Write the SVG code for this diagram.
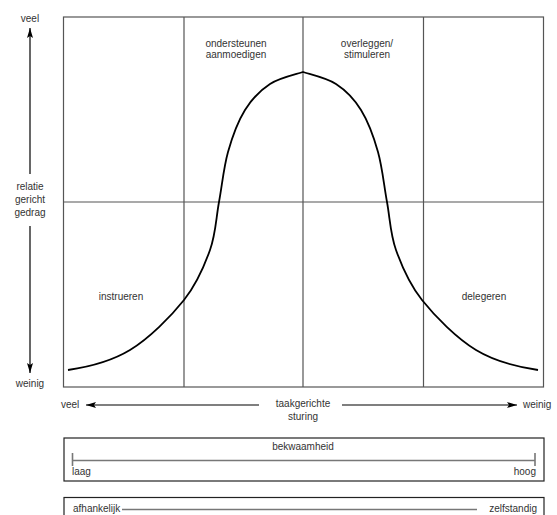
<svg xmlns="http://www.w3.org/2000/svg" width="557" height="515" viewBox="0 0 557 515">
<style>
text{font-family:"Liberation Sans",Arial,sans-serif;font-size:10px;fill:#333}
.mid{text-anchor:middle}
.end{text-anchor:end}
.grid{fill:none;stroke:#555;stroke-width:1.2}
.box{fill:none;stroke:#222;stroke-width:1.2}
.scale{fill:none;stroke:#777;stroke-width:1.6}
.axis{fill:none;stroke:#000;stroke-width:1.2}
.curve{fill:none;stroke:#000;stroke-width:1.8}
</style>
<defs>
<marker id="ah" viewBox="0 0 10 6" refX="10" refY="3" markerWidth="10" markerHeight="6" markerUnits="userSpaceOnUse" orient="auto">
<path d="M0,0 L10,3 L0,6 L2,3 z" fill="#000"/>
</marker>
</defs>
<rect width="557" height="515" fill="#fff"/>
<g id="grid">
<rect class="grid" x="63.5" y="17" width="480" height="370"/>
<path class="grid" d="M184,17 V387 M303,17 V387 M423.5,17 V387 M63.5,202 H543.5"/>
</g>
<g id="curve">
<path class="curve" d="M68,370 C85,367.5 110.7,361.7 130,350 C149.3,338.3 170.7,316.7 184,300 C197.3,283.3 204.2,266.3 210,250 C215.8,233.7 216,218.3 219,202 C222,185.7 223.7,167.3 228,152 C232.3,136.7 238,121.3 245,110 C252,98.7 260.25,90.3 270,84 C279.75,77.7 297.5,74 303,72 C308.5,74 326.25,77.7 336,84 C345.75,90.3 354,98.7 361,110 C368,121.3 373.7,136.7 378,152 C382.3,167.3 384,185.7 387,202 C390,218.3 390.2,233.7 396,250 C401.8,266.3 408.7,283.3 422,300 C435.3,316.7 456.7,338.3 476,350 C495.3,361.7 521,367.5 538,370"/>
</g>
<g id="quadrant-labels">
<g id="q-ondersteunen"><text class="mid" x="236" y="47">ondersteunen</text><text class="mid" x="236" y="58">aanmoedigen</text></g>
<g id="q-overleggen"><text class="mid" x="367" y="47">overleggen/</text><text class="mid" x="367" y="58">stimuleren</text></g>
<g id="q-instrueren"><text class="mid" x="121" y="300">instrueren</text></g>
<g id="q-delegeren"><text class="mid" x="484" y="300">delegeren</text></g>
</g>
<g id="connectors">
<line class="axis" x1="30" y1="174" x2="30" y2="28" marker-end="url(#ah)"/>
<line class="axis" x1="30" y1="226" x2="30" y2="373" marker-end="url(#ah)"/>
<line class="axis" x1="259" y1="405" x2="86" y2="405" marker-end="url(#ah)"/>
<line class="axis" x1="342" y1="405" x2="517" y2="405" marker-end="url(#ah)"/>
</g>
<g id="y-axis-labels">
<text class="mid" x="30" y="22">veel</text>
<text class="mid" x="30" y="190">relatie</text>
<text class="mid" x="30" y="203">gericht</text>
<text class="mid" x="30" y="216">gedrag</text>
<text class="mid" x="30" y="387">weinig</text>
</g>
<g id="x-axis-labels">
<text x="61" y="408">veel</text>
<text class="mid" x="303" y="407">taakgerichte</text>
<text class="mid" x="303" y="420">sturing</text>
<text x="523" y="408">weinig</text>
</g>
<g id="bekwaamheid">
<rect class="box" x="64" y="438" width="480" height="43"/>
<text class="mid" x="303" y="450">bekwaamheid</text>
<path class="scale" d="M72.5,460.5 H535 M72.5,453 V466 M535,453 V466"/>
<text x="72" y="475">laag</text>
<text class="end" x="536" y="475">hoog</text>
</g>
<g id="afhankelijkheid">
<rect class="box" x="64" y="497.5" width="480" height="30"/>
<text x="73" y="512">afhankelijk</text>
<path class="scale" d="M122,509.5 H477"/>
<text class="end" x="537" y="512">zelfstandig</text>
</g>
</svg>
